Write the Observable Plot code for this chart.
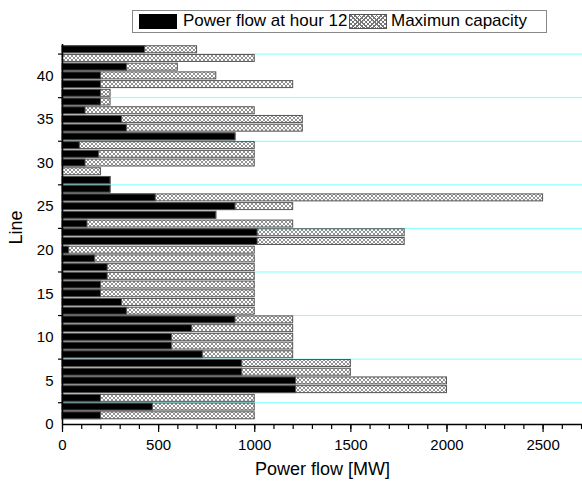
<!DOCTYPE html>
<html>
<head>
<meta charset="utf-8">
<script src="https://cdn.jsdelivr.net/npm/d3@7"></script>
<script src="https://cdn.jsdelivr.net/npm/@observablehq/plot@0.6"></script>
<style>
  html, body { margin: 0; padding: 0; background: #fff; }
  body { width: 582px; height: 484px; overflow: hidden; font-family: "Liberation Sans", Arial, sans-serif; }
  #legend { position: relative; width: 582px; height: 40px; }
  #legend .box { position: absolute; left: 132px; top: 10px; width: 415px; height: 23px; border: 1px solid #888; box-sizing: border-box; }
  #legend .sw { position: absolute; top: 14px; height: 15px; box-sizing: border-box; }
  #legend .black { left: 139px; width: 38px; background: #000; }
  #legend .hatch { left: 349px; width: 38px; border: 1px solid #555;
    background:
      repeating-linear-gradient(45deg, #777 0 1px, transparent 1px 3px),
      repeating-linear-gradient(-45deg, #777 0 1px, #fff 1px 3px); }
  #legend .t { position: absolute; top: 11px; font-size: 17px; line-height: 20px; color: #000; white-space: nowrap; }
  #chart svg text { font-family: "Liberation Sans", Arial, sans-serif; }
</style>
</head>
<body>
<div id="legend">
  <div class="box"></div>
  <div class="sw black"></div>
  <div class="t" style="left:183px">Power flow at hour 12</div>
  <div class="sw hatch"></div>
  <div class="t" style="left:391px">Maximun capacity</div>
</div>
<div id="chart"></div>
<script>
// ---- data ----
const lines = [1,2,3,4,5,6,7,8,9,10,11,12,13,14,15,16,17,18,19,20,21,22,23,24,25,26,27,28,29,30,31,32,33,34,35,36,37,38,39,40,41,42,43];
const powerFlow = [200,470,200,1215,1215,935,935,730,570,570,675,900,335,310,200,200,235,235,170,35,1015,1015,130,800,900,485,250,250,0,120,190,90,900,335,310,120,200,200,200,200,335,0,430];
const maxCapacity = [1000,1000,1000,2000,2000,1500,1500,1200,1200,1200,1200,1200,1000,1000,1000,1000,1000,1000,1000,1000,1780,1780,1200,800,1200,2500,250,250,200,1000,1000,1000,900,1250,1250,1000,250,250,1200,800,600,1000,700];

// ticks
const xLabelTicks = [0,500,1000,1500,2000,2500];
const xMinorTicks = [0,100,200,300,400,500,600,700,800,900,1000,1100,1200,1300,1400,1500,1600,1700,1800,1900,2000,2100,2200,2300,2400,2500,2600,2700];
const yLabelTicks = [0,5,10,15,20,25,30,35,40];
const yTickMarks = [2.5,7.5,12.5,17.5,22.5,27.5,32.5,37.5,42.5];

const table = lines.map((l, i) => ({line: l, flow: powerFlow[i], cap: maxCapacity[i]}));
const half = 0.4;

const plot = Plot.plot({
  width: 582,
  height: 444,
  marginLeft: 62,
  marginRight: 0,
  marginTop: 4,
  marginBottom: 60,
  style: {fontFamily: "'Liberation Sans', Arial, sans-serif", fontSize: "15px", color: "#000", background: "#fff"},
  x: {domain: [0, 2705]},
  y: {domain: [0, 43.6]},
  marks: [
    Plot.ruleY(yTickMarks, {stroke: "#80ffff", strokeWidth: 1}),
    Plot.rect(table, {x1: d => 0, x2: "cap", y1: d => d.line - half, y2: d => d.line + half,
      fill: "url(#hatch)", stroke: "#555", strokeWidth: 1}),
    Plot.rect(table.filter(d => d.flow > 0), {x1: d => 0, x2: "flow", y1: d => d.line - half, y2: d => d.line + half,
      fill: "#000", stroke: "#555", strokeWidth: 1}),
    Plot.axisX({ticks: xMinorTicks, tickSize: 5, tickFormat: () => "", strokeWidth: 1.2}),
    Plot.axisX({ticks: xLabelTicks, tickSize: 8, tickPadding: 7, fontSize: 15, strokeWidth: 1.2, tickFormat: d3.format("d")}),
    Plot.axisY({ticks: yLabelTicks, tickSize: 0, tickPadding: 9, fontSize: 15, tickFormat: d3.format("d")}),
    Plot.axisY({ticks: yTickMarks, tickSize: 4, tickFormat: () => "", strokeWidth: 1.2}),
    Plot.ruleY([0], {stroke: "#000", strokeWidth: 1.5}),
    Plot.ruleX([0], {stroke: "#000", strokeWidth: 1.5}),
    Plot.text(["Power flow [MW]"], {frameAnchor: "bottom", lineAnchor: "bottom", dy: 50, fontSize: 18, fill: "#000"}),
    Plot.text(["Line"], {frameAnchor: "left", lineAnchor: "bottom", rotate: -90, dx: -41, dy: 10, fontSize: 18, fill: "#000"})
  ]
});

// hatch pattern
const ns = "http://www.w3.org/2000/svg";
const defs = document.createElementNS(ns, "defs");
defs.innerHTML = '<pattern id="hatch" patternUnits="userSpaceOnUse" width="4" height="4">' +
  '<rect width="4" height="4" fill="#fff"/>' +
  '<path d="M0,0L4,4M4,0L0,4" stroke="#777" stroke-width="0.8"/></pattern>';
plot.insertBefore(defs, plot.firstChild);
document.getElementById("chart").appendChild(plot);
</script>
</body>
</html>
